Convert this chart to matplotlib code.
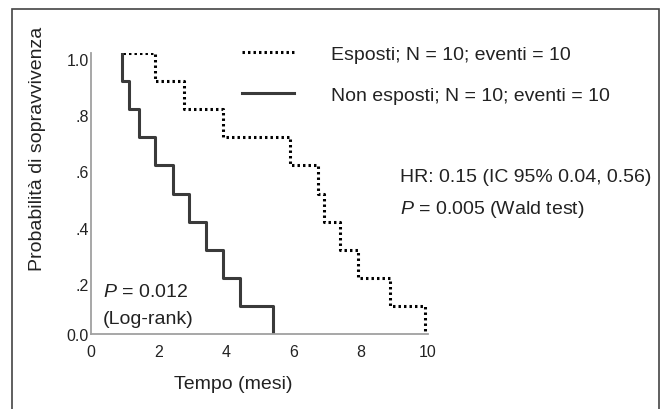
import matplotlib
matplotlib.use("Agg")
import matplotlib.pyplot as plt
from matplotlib.patches import Rectangle

plt.rcParams['font.family'] = ['Liberation Sans', 'DejaVu Sans']
plt.rcParams['mathtext.fontset'] = 'custom'
plt.rcParams['mathtext.rm'] = 'Liberation Sans'
plt.rcParams['mathtext.it'] = 'Liberation Sans:italic'

# tempi degli eventi (mesi) e sopravvivenza dopo ogni evento
esposti_start = 0.94
esposti_tempi = [1.9, 2.75, 3.92, 5.9, 6.75, 6.9, 7.4, 7.93, 8.88, 9.9]
esposti_surv = [0.9, 0.8, 0.7, 0.6, 0.5, 0.4, 0.3, 0.2, 0.1, 0.0]

non_esposti_start = 0.91
non_esposti_tempi = [0.91, 1.14, 1.43, 1.9, 2.42, 2.92, 3.41, 3.93, 4.42, 5.41]
non_esposti_surv = [0.9, 0.8, 0.7, 0.6, 0.5, 0.4, 0.3, 0.2, 0.1, 0.0]

label_esposti = "Esposti; N = 10; eventi = 10"
label_non_esposti = "Non esposti; N = 10; eventi = 10"

xticks = [0, 2, 4, 6, 8, 10]
yticks = [0.0, 0.2, 0.4, 0.6, 0.8, 1.0]
ytick_labels = ["0.0", ".2", ".4", ".6", ".8", "1.0"]

W, H = 664, 410
fig = plt.figure(figsize=(W / 100, H / 100), dpi=100)
ax = fig.add_axes([91 / W, 1 - 335 / H, (428 - 91) / W, (335 - 54) / H])

ax.plot([esposti_start] + esposti_tempi, [1.0] + esposti_surv,
        drawstyle='steps-post', color='black', lw=2.2,
        linestyle=(0, (0.8, 1.0)), label=label_esposti)
ax.plot([non_esposti_start] + non_esposti_tempi, [1.0] + non_esposti_surv,
        drawstyle='steps-post', color='#3a3a3a', lw=2.2,
        label=label_non_esposti)

ax.set_xlim(0, 10)
ax.set_ylim(0, 1.0)
ax.set_xticks(xticks)
ax.set_xticklabels([str(t) for t in xticks])
ax.set_yticks(yticks)
ax.set_yticklabels(ytick_labels)
ax.tick_params(length=0, labelsize=11.5, labelcolor='#222222')
ax.tick_params(axis='x', pad=7)
ax.tick_params(axis='y', pad=1.5)
for lab in ax.get_yticklabels():
    if lab.get_text() != "0.0":
        lab.set_va('top')
for s in ['top', 'right']:
    ax.spines[s].set_visible(False)
for s in ['left', 'bottom']:
    ax.spines[s].set_color('#a0a0a0')
    ax.spines[s].set_linewidth(1.3)

ax.legend(loc='upper left', bbox_to_anchor=(242 / W, 1 - 46 / H),
          bbox_transform=fig.transFigure, frameon=False, fontsize=14,
          handlelength=2.65, handletextpad=1.95, labelspacing=1.2,
          borderpad=0, borderaxespad=0, labelcolor='#222222')

fig.text(38 / W, 1 - 149 / H, "Probabilità di sopravvivenza", rotation=90,
         ha='center', va='center', fontsize=14, color='#222222')
fig.text(233 / W, 1 - 385 / H, "Tempo (mesi)", ha='center', va='center',
         fontsize=14, color='#222222')

fig.text(400 / W, 1 - 178 / H, "HR: 0.15 (IC 95% 0.04, 0.56)",
         ha='left', va='center', fontsize=14, color='#222222')
fig.text(400 / W, 1 - 210 / H, "$P$ = 0.005 (Wald test)",
         ha='left', va='center', fontsize=14, color='#222222')
fig.text(103 / W, 1 - 293 / H, "$P$ = 0.012",
         ha='left', va='center', fontsize=14, color='#222222')
fig.text(103 / W, 1 - 319 / H, "(Log-rank)",
         ha='left', va='center', fontsize=14, color='#222222')

fig.patches.append(Rectangle((12 / W, -0.05), (659 - 12) / W, 1.05 - 10 / H,
                             transform=fig.transFigure, fill=False,
                             edgecolor='#444444', lw=1.2))

fig.savefig("out.png", dpi=100)
